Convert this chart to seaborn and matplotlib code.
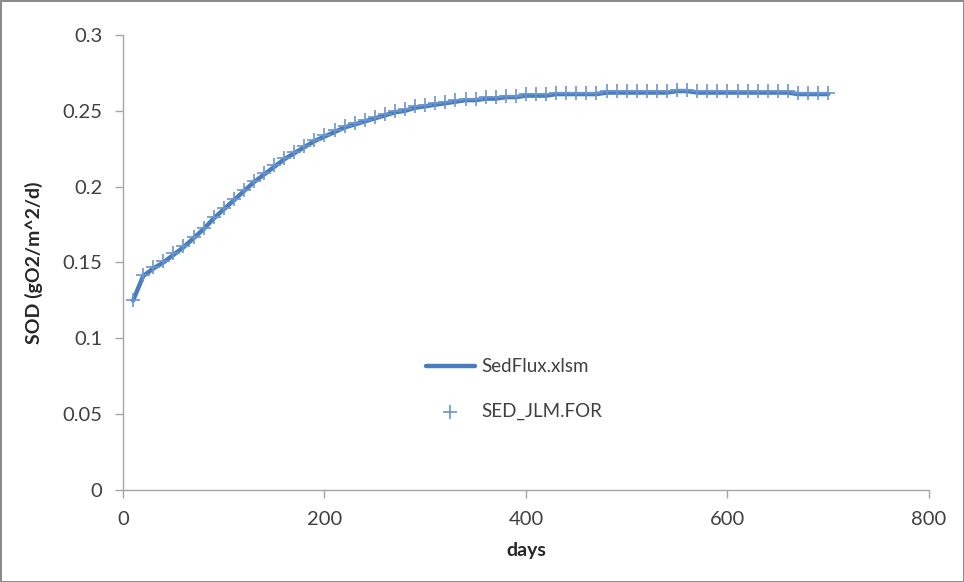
import matplotlib
matplotlib.use("Agg")
import matplotlib.pyplot as plt
import seaborn as sns
import pandas as pd

days = list(range(10, 701, 10))
sedflux = [0.125, 0.141, 0.146, 0.150, 0.155, 0.160, 0.166, 0.172, 0.179, 0.185,
           0.191, 0.197, 0.203, 0.208, 0.213, 0.218, 0.222, 0.226, 0.230, 0.233,
           0.236, 0.239, 0.241, 0.243, 0.245, 0.247, 0.249, 0.250, 0.252, 0.253,
           0.254, 0.255, 0.256, 0.257, 0.257, 0.258, 0.258, 0.259, 0.259, 0.260,
           0.260, 0.260, 0.261, 0.261, 0.261, 0.261, 0.261, 0.262, 0.262, 0.262,
           0.262, 0.262, 0.262, 0.262, 0.263, 0.263, 0.262, 0.262, 0.262, 0.262,
           0.262, 0.262, 0.262, 0.262, 0.262, 0.262, 0.261, 0.261, 0.261, 0.261]
sed_jlm = [0.125, 0.142, 0.147, 0.151, 0.156, 0.161, 0.167, 0.173, 0.180, 0.186,
           0.192, 0.198, 0.204, 0.209, 0.214, 0.219, 0.223, 0.227, 0.231, 0.234,
           0.237, 0.240, 0.242, 0.244, 0.246, 0.248, 0.250, 0.251, 0.253, 0.254,
           0.255, 0.256, 0.257, 0.258, 0.258, 0.259, 0.259, 0.260, 0.260, 0.261,
           0.261, 0.261, 0.262, 0.262, 0.262, 0.262, 0.262, 0.263, 0.263, 0.263,
           0.263, 0.263, 0.263, 0.263, 0.264, 0.264, 0.263, 0.263, 0.263, 0.263,
           0.263, 0.263, 0.263, 0.263, 0.263, 0.263, 0.262, 0.262, 0.262, 0.262]
x_ticks = [0, 200, 400, 600, 800]
y_ticks = [0, 0.05, 0.1, 0.15, 0.2, 0.25, 0.3]
y_ticklabels = ["0", "0.05", "0.1", "0.15", "0.2", "0.25", "0.3"]

df = pd.DataFrame({"days": days, "SedFlux.xlsm": sedflux, "SED_JLM.FOR": sed_jlm})

sns.set_style("white")
plt.rcParams["font.family"] = ["Lato", "DejaVu Sans"]

fig = plt.figure(figsize=(9.64, 5.82), dpi=100)
fig.patch.set_edgecolor("#8c8c8c")
fig.patch.set_linewidth(2)
ax = fig.add_axes([0.1276, 0.158, 0.836, 0.782])

blue = "#4a7ebb"
sns.lineplot(data=df, x="days", y="SedFlux.xlsm", ax=ax, color=blue, linewidth=3.2,
             label="SedFlux.xlsm")
sns.scatterplot(data=df, x="days", y="SED_JLM.FOR", ax=ax, color="#6b95cf", marker="+",
                s=90, linewidth=1.2, label="SED_JLM.FOR", zorder=3)

ax.set_xlim(0, 800)
ax.set_ylim(0, 0.3)
ax.set_xticks(x_ticks)
ax.set_xticklabels([str(t) for t in x_ticks])
ax.set_yticks(y_ticks)
ax.set_yticklabels(y_ticklabels)
for s in ["top", "right"]:
    ax.spines[s].set_visible(False)
for s in ["left", "bottom"]:
    ax.spines[s].set_color("#a6a6a6")
    ax.spines[s].set_linewidth(1)
ax.tick_params(axis="both", which="both", length=6, width=1, color="#a6a6a6",
               labelsize=14.5, labelcolor="#404040", direction="out", pad=9,
               bottom=True, left=True)
ax.set_xlabel("days", fontsize=14, fontweight="bold", color="#262626", labelpad=10)
ax.set_ylabel("SOD (gO2/m^2/d)", fontsize=14, fontweight="bold", color="#262626", labelpad=14)

leg = ax.legend(loc="center left", bbox_to_anchor=(0.355, 0.222), frameon=False,
                fontsize=13.5, labelspacing=1.45, handlelength=2.6, handletextpad=0.35)
for t in leg.get_texts():
    t.set_color("#404040")

fig.savefig("out.png", dpi=100, edgecolor=fig.get_edgecolor())
